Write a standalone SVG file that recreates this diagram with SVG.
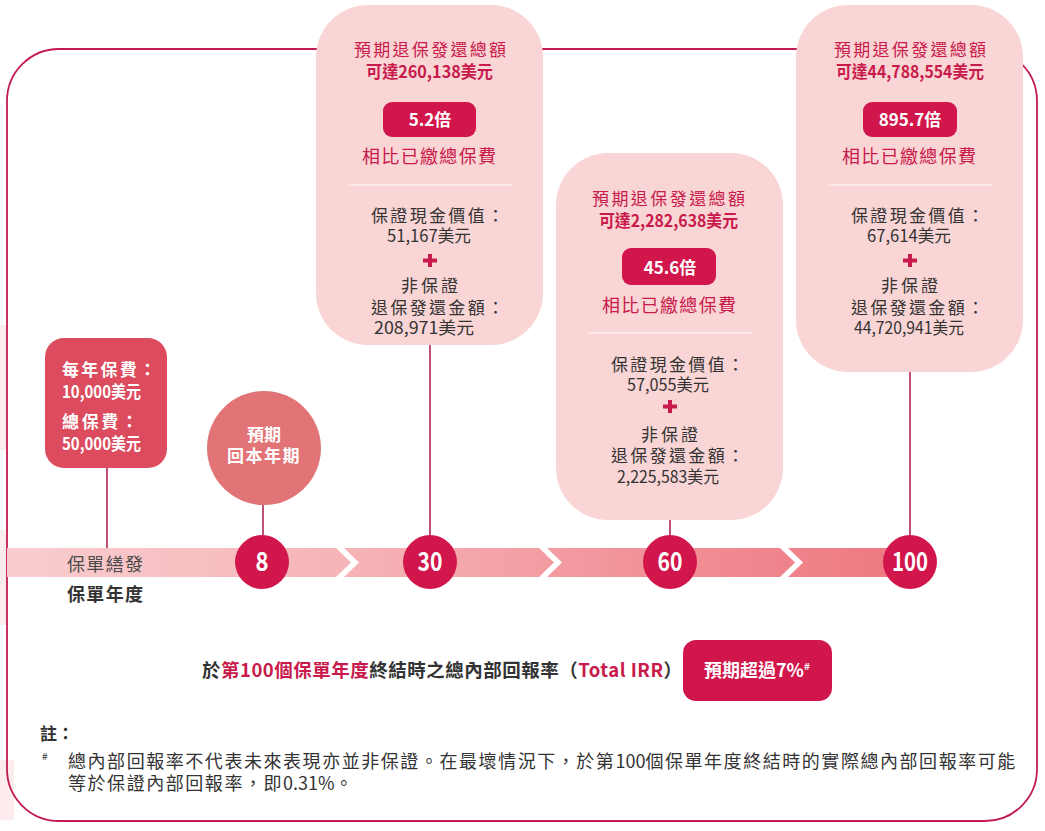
<svg xmlns="http://www.w3.org/2000/svg" width="1045" height="831" viewBox="0 0 1045 831">
<defs>
<style>
text{font-family:"Noto Sans CJK TC","Noto Sans",sans-serif;}
.card{fill:#fad5d5;}
.red{fill:#c81a4b;font-size:17px;}
.redb{fill:#c81a4b;font-size:17px;font-weight:700;}
.rel{fill:#c81a4b;font-size:18px;}
.dk{fill:#333333;font-size:17px;}
.badge{fill:#d1164b;}
.wb{fill:#ffffff;font-weight:700;font-size:17px;}
.div{stroke:#ffffff;stroke-width:1.2;opacity:0.85;}
.plus{fill:#c81a4b;}
.num{fill:#ffffff;font-weight:700;font-size:26px;}
.dot{fill:#d1164b;}
.conn line{stroke:#a8174a;stroke-width:1.5;}
.chev{fill:#ffffff;}
.note{fill:#333333;font-size:18px;letter-spacing:1.55px;}
.nd{letter-spacing:0px;}
</style>
<linearGradient id="bar" gradientUnits="userSpaceOnUse" x1="7" y1="0" x2="910" y2="0">
<stop offset="0" stop-color="#f9cdd0"/>
<stop offset="0.37" stop-color="#f6b5b8"/>
<stop offset="0.65" stop-color="#f2979d"/>
<stop offset="1" stop-color="#ee7780"/>
</linearGradient>
</defs>
<rect x="0" y="0" width="1045" height="831" fill="#ffffff"/>
<rect x="0" y="325" width="6" height="125" fill="#fcecee"/>
<rect x="0" y="530" width="6" height="95" fill="#fcecee"/>
<rect x="0" y="760" width="14" height="60" fill="#fcecee"/>
<g id="frame">
<rect x="7" y="49" width="1030" height="772" rx="52" ry="52" fill="none" stroke="#c41b4e" stroke-width="1.8"/>
</g>

<g id="node-card-30">
<rect class="card" x="316" y="5" width="227" height="340" rx="52"/>
<text class="red" x="354" y="56" textLength="152">預期退保發還總額</text>
<text class="redb" x="366" y="78" textLength="127" lengthAdjust="spacingAndGlyphs">可達260,138美元</text>
<rect class="badge" x="383" y="102" width="93" height="35" rx="9"/>
<text class="wb" x="430" y="126" text-anchor="middle">5.2倍</text>
<text class="rel" x="362" y="163" textLength="134">相比已繳總保費</text>
<line class="div" x1="348" y1="185" x2="512" y2="185"/>
<text class="dk" x="371" y="222" textLength="133">保證現金價值：</text>
<text class="dk" x="387" y="242" textLength="84" lengthAdjust="spacingAndGlyphs">51,167美元</text>
<rect class="plus" x="428" y="254" width="4" height="13"/>
<rect class="plus" x="423" y="258.5" width="14" height="4"/>
<text class="dk" x="401" y="292" textLength="57">非保證</text>
<text class="dk" x="371" y="314" textLength="133">退保發還金額：</text>
<text class="dk" x="374" y="334" textLength="100" lengthAdjust="spacingAndGlyphs">208,971美元</text>
</g>

<g id="node-card-60">
<rect class="card" x="556" y="153" width="227" height="367" rx="52"/>
<text class="red" x="592" y="205" textLength="153">預期退保發還總額</text>
<text class="redb" x="599" y="227" textLength="139" lengthAdjust="spacingAndGlyphs">可達2,282,638美元</text>
<rect class="badge" x="622" y="248" width="94" height="37" rx="9"/>
<text class="wb" x="670" y="274" text-anchor="middle">45.6倍</text>
<text class="rel" x="602" y="312" textLength="134">相比已繳總保費</text>
<line class="div" x1="588" y1="333" x2="752" y2="333"/>
<text class="dk" x="611" y="371" textLength="133">保證現金價值：</text>
<text class="dk" x="627" y="391" textLength="82" lengthAdjust="spacingAndGlyphs">57,055美元</text>
<rect class="plus" x="668" y="400" width="4" height="13"/>
<rect class="plus" x="663" y="404.5" width="14" height="4"/>
<text class="dk" x="641" y="441" textLength="57">非保證</text>
<text class="dk" x="611" y="462" textLength="133">退保發還金額：</text>
<text class="dk" x="617" y="483" textLength="102" lengthAdjust="spacingAndGlyphs">2,225,583美元</text>
</g>

<g id="node-card-100">
<rect class="card" x="796" y="5" width="227" height="367" rx="52"/>
<text class="red" x="834" y="56" textLength="152">預期退保發還總額</text>
<text class="redb" x="836" y="78" textLength="148" lengthAdjust="spacingAndGlyphs">可達44,788,554美元</text>
<rect class="badge" x="863" y="102" width="94" height="35" rx="9"/>
<text class="wb" x="910" y="126" text-anchor="middle">895.7倍</text>
<text class="rel" x="842" y="163" textLength="134">相比已繳總保費</text>
<line class="div" x1="828" y1="185" x2="992" y2="185"/>
<text class="dk" x="851" y="222" textLength="133">保證現金價值：</text>
<text class="dk" x="867" y="242" textLength="84" lengthAdjust="spacingAndGlyphs">67,614美元</text>
<rect class="plus" x="908" y="254" width="4" height="13"/>
<rect class="plus" x="903" y="258.5" width="14" height="4"/>
<text class="dk" x="881" y="292" textLength="57">非保證</text>
<text class="dk" x="851" y="314" textLength="133">退保發還金額：</text>
<text class="dk" x="854" y="334" textLength="110" lengthAdjust="spacingAndGlyphs">44,720,941美元</text>
</g>

<g id="node-premium">
<rect x="45" y="338" width="122" height="130" rx="19" fill="#dc4c5e"/>
<text class="wb" x="62" y="376" textLength="94">每年保費：</text>
<text class="wb" x="62" y="398" textLength="79" lengthAdjust="spacingAndGlyphs">10,000美元</text>
<text class="wb" x="62" y="428" textLength="76">總保費：</text>
<text class="wb" x="62" y="450" textLength="79" lengthAdjust="spacingAndGlyphs">50,000美元</text>
</g>

<g id="node-breakeven">
<circle cx="264" cy="448" r="57" fill="#e27478"/>
<text class="wb" x="264" y="441" text-anchor="middle">預期</text>
<text class="wb" x="264" y="462" text-anchor="middle" letter-spacing="1.5">回本年期</text>
</g>

<g id="connectors" class="conn">
<line x1="107" y1="468" x2="107" y2="548"/>
<line x1="263" y1="505" x2="263" y2="535"/>
<line x1="430" y1="345" x2="430" y2="535"/>
<line x1="670" y1="520" x2="670" y2="535"/>
<line x1="910" y1="372" x2="910" y2="535"/>
</g>

<g id="timeline">
<rect x="7" y="548" width="903" height="29" fill="url(#bar)"/>
<polygon class="chev" points="336,548 344,548 359,562.5 344,577 336,577 351,562.5"/>
<polygon class="chev" points="539,548 547,548 562,562.5 547,577 539,577 554,562.5"/>
<polygon class="chev" points="780,548 788,548 803,562.5 788,577 780,577 795,562.5"/>
<text x="67" y="571" font-size="18" fill="#4a4a4a" textLength="76">保單繕發</text>
<text x="67" y="601" font-size="18" font-weight="700" fill="#333333" textLength="76">保單年度</text>
</g>

<g id="node-year-8">
<circle class="dot" cx="262" cy="562" r="27"/>
<text class="num" x="262" y="571" text-anchor="middle" textLength="13" lengthAdjust="spacingAndGlyphs">8</text>
</g>
<g id="node-year-30">
<circle class="dot" cx="430" cy="562" r="27"/>
<text class="num" x="430" y="571" text-anchor="middle" textLength="25" lengthAdjust="spacingAndGlyphs">30</text>
</g>
<g id="node-year-60">
<circle class="dot" cx="670" cy="562" r="27"/>
<text class="num" x="670" y="571" text-anchor="middle" textLength="25" lengthAdjust="spacingAndGlyphs">60</text>
</g>
<g id="node-year-100">
<circle class="dot" cx="910" cy="562" r="27"/>
<text class="num" x="910" y="571" text-anchor="middle" textLength="36" lengthAdjust="spacingAndGlyphs">100</text>
</g>

<g id="irr">
<text x="202" y="677" font-size="18.5" font-weight="700" letter-spacing="0.5" fill="#333333">於<tspan fill="#c81a4b">第100個保單年度</tspan>終結時之總內部回報率（<tspan fill="#c81a4b">Total IRR</tspan>）</text>
<rect class="badge" x="683" y="640" width="149" height="61" rx="13"/>
<text x="704" y="677" font-size="18" font-weight="700" fill="#ffffff">預期超過7%<tspan font-size="10" dy="-7">#</tspan></text>
</g>

<g id="notes">
<text x="40" y="740" font-size="17" font-weight="700" fill="#333333">註：</text>
<text x="42" y="760" font-size="10" fill="#333333">#</text>
<text class="note" x="68" y="768">總內部回報率不代表未來表現亦並非保證。在最壞情況下，於第<tspan class="nd">100</tspan>個保單年度終結時的實際總內部回報率可能</text>
<text class="note" x="68" y="790">等於保證內部回報率，即<tspan class="nd">0.31%</tspan>。</text>
</g>
</svg>
